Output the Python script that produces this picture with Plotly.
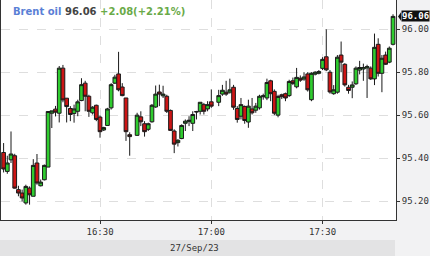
import pandas as pd
import plotly.graph_objects as go

# ---- data ----
instrument = "Brent oil"
last_price = 96.06
change = 2.08
change_pct = 2.21
date_label = "27/Sep/23"

start_time = "2023-09-27 16:04"
end_time = "2023-09-27 17:49"
missing_minutes = ["16:39", "17:01"]

open_ = [95.426, 95.338, 95.392, 95.411, 95.253, 95.237, 95.191, 95.26, 95.222, 95.377,
         95.271, 95.299, 95.358, 95.609, 95.628, 95.609, 95.819, 95.679, 95.631, 95.608,
         95.618, 95.668, 95.749, 95.688, 95.611, 95.646, 95.591, 95.531, 95.552, 95.634,
         95.749, 95.792, 95.731, 95.68, 95.509,
         95.506, 95.592, 95.56, 95.534, 95.569, 95.638, 95.708, 95.69, 95.688, 95.622,
         95.526, 95.472, 95.491, 95.562, 95.571, 95.562, 95.617, 95.618, 95.649, 95.629,
         95.662,
         95.66, 95.698, 95.707, 95.707, 95.73, 95.631, 95.595, 95.64, 95.568, 95.629,
         95.623, 95.634, 95.686, 95.68, 95.76, 95.711, 95.60, 95.695, 95.70, 95.691,
         95.76, 95.732, 95.772, 95.768, 95.792, 95.672, 95.791, 95.795, 95.818, 95.872,
         95.80, 95.70, 95.707, 95.88, 95.837, 95.73, 95.73, 95.746, 95.81, 95.815,
         95.82, 95.819, 95.769, 95.93, 95.795, 95.88, 95.847, 95.93]
high = [95.47, 95.411, 95.524, 95.42, 95.271, 95.253, 95.276, 95.268, 95.395, 95.419,
        95.30, 95.37, 95.617, 95.62, 95.643, 95.829, 95.834, 95.68, 95.642, 95.649,
        95.672, 95.772, 95.76, 95.695, 95.642, 95.649, 95.598, 95.546, 95.634, 95.749,
        95.788, 95.895, 95.749, 95.68, 95.52,
        95.611, 95.618, 95.572, 95.565, 95.652, 95.738, 95.742, 95.737, 95.695, 95.626,
        95.534, 95.488, 95.557, 95.58, 95.595, 95.618, 95.62, 95.66, 95.657, 95.665,
        95.72,
        95.718, 95.741, 95.76, 95.77, 95.741, 95.642, 95.68, 95.645, 95.672, 95.68,
        95.657, 95.695, 95.70, 95.77, 95.765, 95.72, 95.695, 95.70, 95.705, 95.765,
        95.775, 95.82, 95.785, 95.80, 95.80, 95.80, 95.805, 95.81, 95.87, 96.00,
        95.81, 95.74, 95.88, 95.943, 95.842, 95.741, 95.757, 95.827, 95.853, 95.84,
        95.835, 95.827, 95.98, 95.958, 95.88, 95.896, 95.92, 96.07]
low = [95.333, 95.327, 95.377, 95.258, 95.222, 95.198, 95.183, 95.183, 95.222, 95.276,
       95.268, 95.296, 95.358, 95.54, 95.594, 95.566, 95.66, 95.566, 95.572, 95.565,
       95.595, 95.665, 95.618, 95.592, 95.603, 95.572, 95.495, 95.526, 95.552, 95.626,
       95.745, 95.711, 95.688, 95.48, 95.411,
       95.503, 95.549, 95.50, 95.526, 95.565, 95.634, 95.642, 95.68, 95.61, 95.526,
       95.423, 95.454, 95.488, 95.526, 95.549, 95.526, 95.58, 95.603, 95.603, 95.618,
       95.634,
       95.642, 95.69, 95.69, 95.70, 95.625, 95.565, 95.58, 95.56, 95.541, 95.603,
       95.611, 95.626, 95.672, 95.67, 95.665, 95.60, 95.59, 95.675, 95.665, 95.685,
       95.74, 95.725, 95.755, 95.76, 95.71, 95.665, 95.785, 95.79, 95.81, 95.805,
       95.70, 95.695, 95.70, 95.80, 95.733, 95.70, 95.679, 95.741, 95.79, 95.76,
       95.68, 95.764, 95.74, 95.78, 95.707, 95.834, 95.842, 95.925]
close = [95.349, 95.377, 95.419, 95.26, 95.237, 95.214, 95.268, 95.229, 95.366, 95.284,
         95.288, 95.366, 95.617, 95.62, 95.614, 95.819, 95.671, 95.64, 95.603, 95.629,
         95.662, 95.742, 95.688, 95.618, 95.637, 95.58, 95.523, 95.542, 95.629, 95.742,
         95.777, 95.718, 95.691, 95.523, 95.50,
         95.60, 95.569, 95.523, 95.56, 95.646, 95.698, 95.698, 95.698, 95.618, 95.529,
         95.465, 95.483, 95.552, 95.572, 95.576, 95.603, 95.615, 95.66, 95.618, 95.649,
         95.642,
         95.691, 95.716, 95.698, 95.718, 95.637, 95.58, 95.649, 95.575, 95.642, 95.611,
         95.642, 95.688, 95.69, 95.752, 95.70, 95.609, 95.687, 95.686, 95.68, 95.757,
         95.748, 95.776, 95.763, 95.778, 95.718, 95.795, 95.80, 95.803, 95.86, 95.811,
         95.708, 95.718, 95.87, 95.847, 95.741, 95.715, 95.741, 95.819, 95.822, 95.822,
         95.826, 95.769, 95.916, 95.795, 95.865, 95.837, 95.912, 96.06]

y_tick_values = [95.20, 95.40, 95.60, 95.80, 96.00]
y_tick_labels = ["95.20", "95.40", "95.60", "95.80", "96.00"]
x_range = ["2023-09-27 16:03:18", "2023-09-27 17:49:48"]
y_range = [95.1115, 96.1365]

times = [t for t in pd.date_range(start_time, end_time, freq="min")
         if t.strftime("%H:%M") not in missing_minutes]

# ---- figure ----
mono = "DejaVu Sans Mono"
fig = go.Figure(go.Candlestick(
    x=times, open=open_, high=high, low=low, close=close,
    increasing=dict(fillcolor="#2fcc2f", line=dict(color="#1a1a1a", width=1)),
    decreasing=dict(fillcolor="#cc1515", line=dict(color="#1a1a1a", width=1)),
    whiskerwidth=0, showlegend=False, hoverinfo="skip",
))

fig.update_layout(
    width=430, height=256, autosize=False,
    margin=dict(l=1, r=34, t=0, b=36),
    paper_bgcolor="#f2f2f3", plot_bgcolor="#ffffff",
    boxgap=0.0, boxgroupgap=0.0,
    xaxis=dict(
        type="date", range=x_range, tick0="2023-09-27 16:00", dtick=1800000,
        tickformat="%H:%M", showgrid=True, gridcolor="#dedede", griddash="dash",
        gridwidth=1, showline=True, linecolor="#333333", linewidth=1,
        ticks="outside", ticklen=3, tickcolor="#333333",
        tickfont=dict(family=mono, size=9, color="#333333"),
        rangeslider=dict(visible=False), zeroline=False, fixedrange=True,
    ),
    yaxis=dict(
        side="right", range=y_range, tickvals=y_tick_values, ticktext=y_tick_labels,
        showgrid=True, gridcolor="#dedede", griddash="dash", gridwidth=1,
        showline=True, mirror=True, linecolor="#333333", linewidth=1,
        ticks="outside", ticklen=3, tickcolor="#333333",
        tickfont=dict(family=mono, size=9, color="#333333"),
        zeroline=False, fixedrange=True,
    ),
)

# date band at the bottom
fig.add_shape(type="rect", xref="paper", yref="paper",
              x0=-0.0026, x1=0.9975, y0=-0.1636, y1=-0.0909,
              fillcolor="#e3e3e4", line=dict(width=0), layer="below")
fig.add_annotation(text=date_label, xref="paper", yref="paper", x=0.491, y=-0.127,
                   showarrow=False, xanchor="center", yanchor="middle",
                   font=dict(family=mono, size=9, color="#333333"))

# title
title = (f'<b><span style="color:#5a7fd6">{instrument}</span> '
         f'<span style="color:#444444">{last_price:.2f}</span> '
         f'<span style="color:#6aaa48">{change:+.2f}({change_pct:+.2f}%)</span></b>')
fig.add_annotation(text=title, xref="paper", yref="paper", x=0.0253, y=0.948,
                   xanchor="left", yanchor="middle", showarrow=False,
                   font=dict(family="DejaVu Sans", size=10))

# last price marker
fig.add_shape(type="path", xref="paper", yref="y",
              path=f"M 1.0051,{last_price} L 1.0128,{last_price + 0.02} L 1.0128,{last_price - 0.02} Z",
              fillcolor="#111111", line=dict(width=0))
fig.add_annotation(text=f"<b>{last_price:.2f}</b>", xref="paper", yref="y",
                   x=1, y=last_price, xanchor="left", yanchor="middle", xshift=5,
                   showarrow=False, bgcolor="#111111", borderpad=0,
                   font=dict(family=mono, size=9, color="#ffffff"))

fig.write_html("out.html")
